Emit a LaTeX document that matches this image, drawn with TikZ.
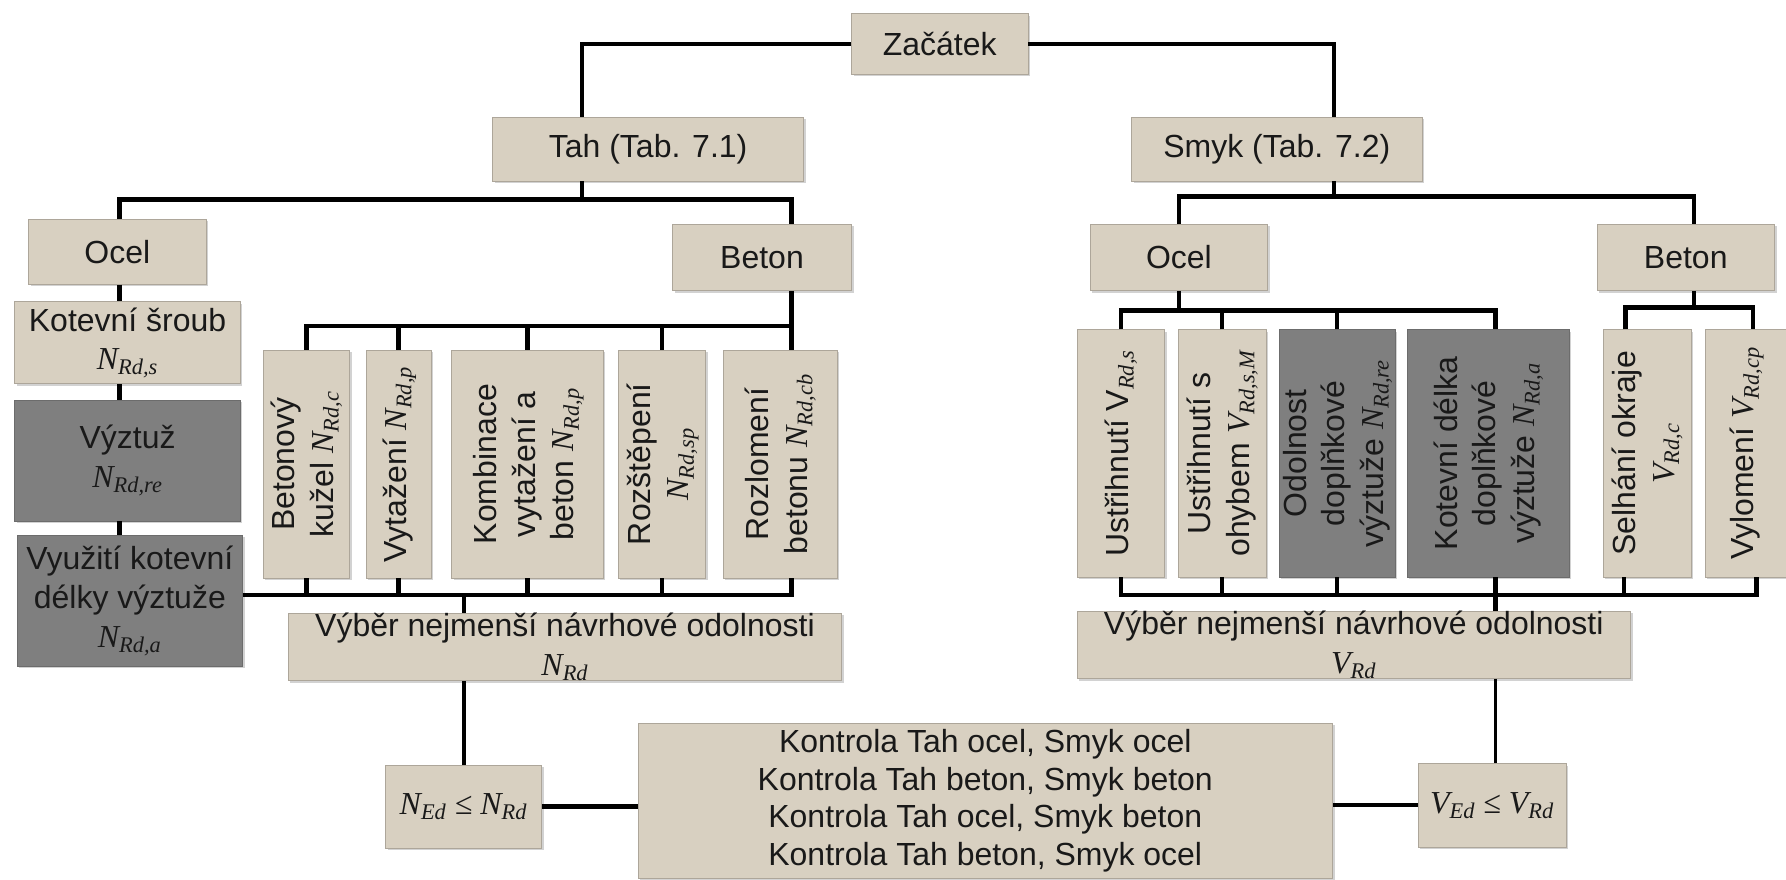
\documentclass[tikz,border=0pt]{standalone}
\usepackage{fontspec}
\setmainfont{Liberation Sans}
\newfontfamily\symfont{Liberation Serif}
\usetikzlibrary{shadows}

\definecolor{boxtan}{RGB}{216,208,193}
\definecolor{boxdark}{RGB}{127,127,127}

% resistance symbol: italic serif letter with subscript
\newcommand{\res}[2]{{\symfont\itshape #1\textsubscript{#2}}}
\newcommand{\vtext}[1]{\rotatebox{90}{\begin{tabular}{@{}c@{}}#1\end{tabular}}}

\tikzset{
  sz/.style 2 args={minimum width=#1*0.02278cm, minimum height=#2*0.02278cm},
  box/.style={fill=boxtan, draw=boxtan!80!black, line width=0.4pt, inner sep=0pt,
    align=center, text=black!90, font=\fontsize{18.2}{22}\selectfont,
    drop shadow={shadow xshift=1.2pt, shadow yshift=-1.2pt, opacity=0.35}},
  darkbox/.style={box, fill=boxdark, draw=boxdark!85!black},
  conn/.style={line width=2.5pt},
  downconn/.style={line width=2pt},
}

\begin{document}
\begin{tikzpicture}[x=0.02278cm, y=-0.02278cm]
	%%%%% START %%%%%
	\useasboundingbox (0,0) rectangle (1568,772);
	\fill[white] (0,0) rectangle (1568,772);

	\node[box, sz={155}{53}] (zac) at (825,38.5) {Začátek};
	\node[box, sz={273}{56}] (tah) at (569,131) {Tah (Tab. 7.1)};
	\node[box, sz={255}{56}] (smyk) at (1121,131) {Smyk (Tab. 7.2)};

	% tah
	\node[box, sz={156}{57}] (ocelL) at (103,221) {Ocel};
	\node[box, sz={157}{58}] (betonL) at (669,226) {Beton};
	\node[box, sz={198}{72}] (kotS) at (112,301) {Kotevní šroub\\\res{N}{Rd,s}};
	\node[darkbox, sz={198}{106}] (vyztuz) at (112,404.5) {Výztuž\\\res{N}{Rd,re}};
	\node[darkbox, sz={198}{115}] (vyuz) at (114,527.5) {Využití kotevní\\délky výztuže\\\res{N}{Rd,a}};

	\node[box, sz={76}{200}] (bk) at (269,407.5) {\vtext{Betonový\\kužel \res{N}{Rd,c}}};
	\node[box, sz={57}{200}] (vyt) at (350,407.5) {\vtext{Vytažení \res{N}{Rd,p}}};
	\node[box, sz={133}{200}] (komb) at (463,407.5) {\vtext{Kombinace\\vytažení a\\beton \res{N}{Rd,p}}};
	\node[box, sz={77}{200}] (roz) at (581,407.5) {\vtext{Rozštěpení\\\res{N}{Rd,sp}}};
	\node[box, sz={100}{200}] (rozl) at (685,407.5) {\vtext{Rozlomení\\betonu \res{N}{Rd,cb}}};

	\node[box, sz={486}{58}] (vyberL) at (496,568) {Výběr nejmenší návrhové odolnosti\\\res{N}{Rd}};

	% smyk
	\node[box, sz={156}{58}] (ocelR) at (1035,226) {Ocel};
	\node[box, sz={156}{58}] (betonR) at (1480,226) {Beton};

	\node[box, sz={77}{217}] (u1) at (984,398) {\vtext{Ustřihnutí V\textsubscript{\symfont\itshape Rd,s}}};
	\node[box, sz={77}{217}] (u2) at (1073,398) {\vtext{Ustřihnutí s\\ohybem \res{V}{Rd,s,M}}};
	\node[darkbox, sz={98}{217}] (odol) at (1174,398) {\vtext{Odolnost\\doplňkové\\výztuže \res{N}{Rd,re}}};
	\node[darkbox, sz={142}{217}] (kotd) at (1306.5,398) {\vtext{Kotevní délka\\doplňkové\\výztuže \res{N}{Rd,a}}};
	\node[box, sz={77}{217}] (selh) at (1446,398) {\vtext{Selhání okraje\\\res{V}{Rd,c}}};
	\node[box, sz={72}{217}] (vylom) at (1533,398) {\vtext{Vylomení \res{V}{Rd,cp}}};

	\node[box, sz={486}{59}] (vyberR) at (1188.5,566) {Výběr nejmenší návrhové odolnosti\\\res{V}{Rd}};

	% kontrola
	\node[box, sz={137}{73}] (ned) at (407,708) {{\symfont\itshape N\textsubscript{Ed} ≤ N\textsubscript{Rd}}};
	\node[box, sz={610}{136}, font=\fontsize{18.2}{21.5}\selectfont] (kontrola) at (865,703) {Kontrola Tah ocel, Smyk ocel\\Kontrola Tah beton, Smyk beton\\Kontrola Tah ocel, Smyk beton\\Kontrola Tah beton, Smyk ocel};
	\node[box, sz={130}{73}] (ved) at (1310,707) {{\symfont\itshape V\textsubscript{Ed} ≤ V\textsubscript{Rd}}};

	% junctions
	\coordinate (jl) at (511,175);
	\coordinate (jr) at (1171,172.5);
	\coordinate (jol) at (105,175);
	\coordinate (jbl) at (695,286);
	\coordinate (jcl) at (407.5,522.5);
	\coordinate (jor) at (1035,172.5);
	\coordinate (jbr) at (1487,172.5);
	\coordinate (jo) at (1035,272.5);
	\coordinate (jb) at (1487,270);
	\coordinate (jcr) at (1313,522.5);

	\draw[conn] (zac.west) -| (tah.north -| jl);
	\draw[conn] (zac.east) -| (smyk.north -| jr);

	\draw[conn] (tah.south -| jl) -- (jl);
	\draw[conn] (ocelL.north -| jol) -- (jol) -- (jl) -| (betonL.north -| jbl);
	\draw[conn] (ocelL.south -| jol) -- (kotS.north -| jol);
	\draw[conn] (kotS.south -| jol) -- (vyztuz.north -| jol);
	\draw[conn] (vyztuz.south -| jol) -- (vyuz.north -| jol);

	\draw[conn] (betonL.south -| jbl) -- (jbl);
	\draw[conn] (bk.north) |- (jbl) -- (rozl.north -| jbl);
	\foreach \n in {vyt,komb,roz}
		\draw[conn] (\n.north) -- (\n.north |- jbl);
	\draw[conn] (vyuz.east |- jcl) -- (jbl |- jcl) -- (rozl.south -| jbl);
	\foreach \n in {bk,vyt,komb,roz}
		\draw[conn] (\n.south) -- (\n.south |- jcl);
	\draw[conn] (jcl) -- (vyberL.north -| jcl);
	\draw[downconn] (vyberL.south -| jcl) -- (ned.north -| jcl);

	\draw[conn] (smyk.south -| jr) -- (jr);
	\draw[conn] (ocelR.north -| jor) -- (jor) -- (jbr) -- (betonR.north -| jbr);
	\draw[conn] (ocelR.south -| jo) -- (jo);
	\draw[conn] (u1.north) |- (jcr |- jo) -- (kotd.north -| jcr);
	\foreach \n in {u2,odol}
		\draw[conn] (\n.north) -- (\n.north |- jo);
	\draw[conn] (betonR.south -| jb) -- (jb);
	\draw[conn] (selh.north -| 1427,0) |- (jb) -| (vylom.north -| 1539,0);

	\draw[conn] (u1.south) |- (1542,522.5) -- (vylom.south -| 1542,0);
	\foreach \n in {u2,odol}
		\draw[conn] (\n.south) -- (\n.south |- jcr);
	\draw[conn] (kotd.south -| jcr) -- (jcr);
	\draw[conn] (selh.south -| 1426,0) -- (1426,522.5);
	\draw[conn] (jcr) -- (vyberR.north -| jcr);
	\draw[downconn] (vyberR.south -| jcr) -- (ved.north -| jcr);

	\draw[conn] (ned.east) -- (ned.east -| kontrola.west);
	\draw[conn] (ved.west -| kontrola.east) -- (ved.west);
	%%%%% END %%%%%
\end{tikzpicture}
\end{document}
